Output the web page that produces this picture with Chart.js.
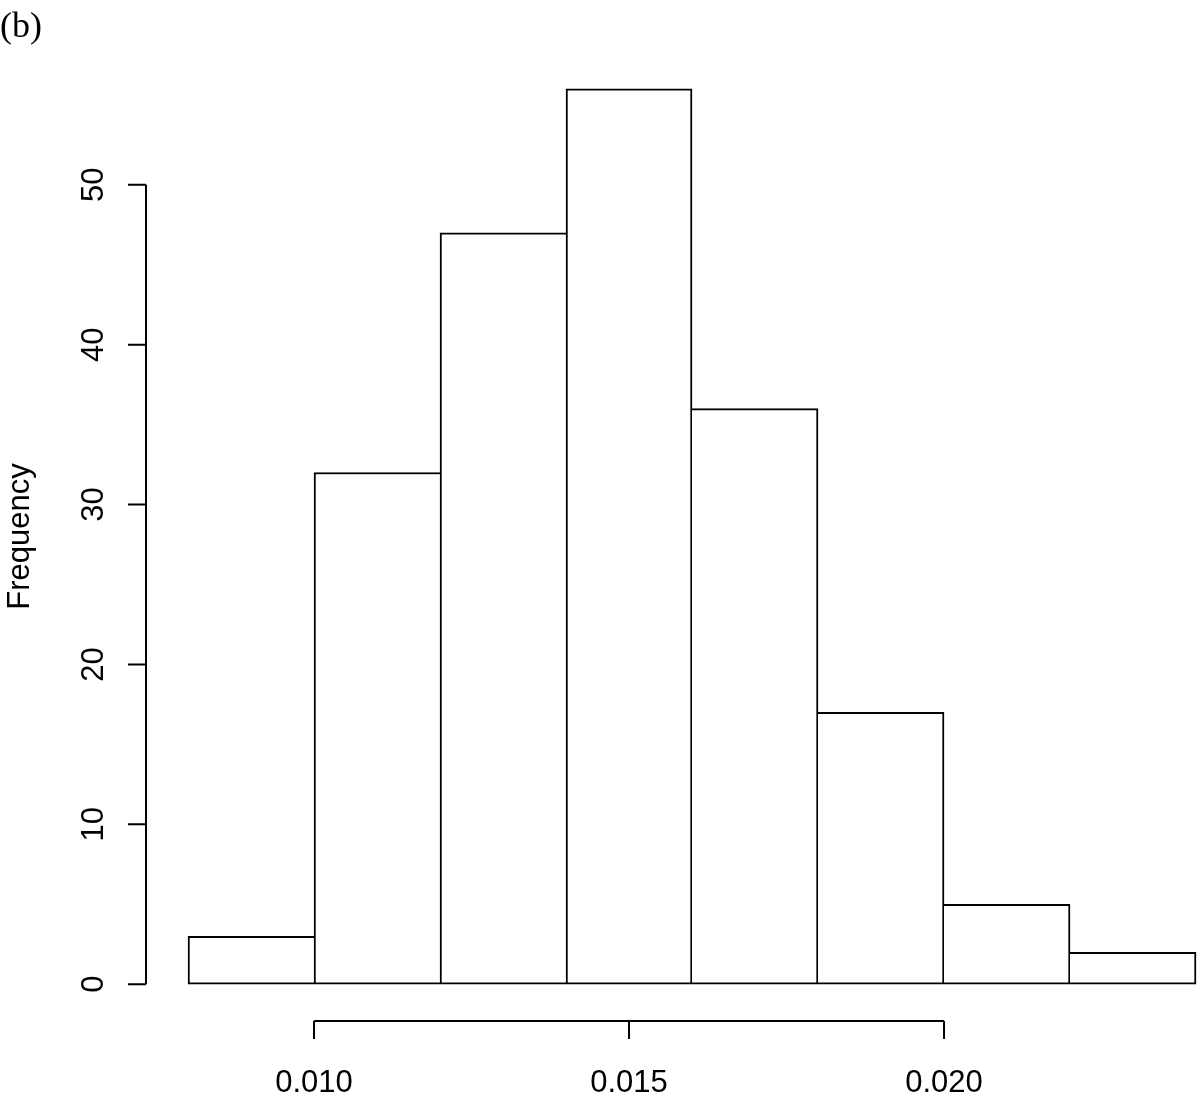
<!DOCTYPE html>
<html>
<head>
<meta charset="utf-8">
<script src="https://cdn.jsdelivr.net/npm/chart.js@4/dist/chart.umd.min.js"></script>
<style>
  html, body { margin: 0; padding: 0; background: #fff; }
  canvas { display: block; }
</style>
</head>
<body>
<canvas id="hist" width="1200" height="1098"></canvas>
<script>
// ——— DATA ———
const binEdges = [0.008, 0.010, 0.012, 0.014, 0.016, 0.018, 0.020, 0.022, 0.024];
const counts = [3, 32, 47, 56, 36, 17, 5, 2];
const xTicks = [0.010, 0.015, 0.020];
const xTickLabels = ['0.010', '0.015', '0.020'];
const yTicks = [0, 10, 20, 30, 40, 50];
const yLabel = 'Frequency';
const panelTag = '(b)';

const FONT = '31px "Liberation Sans", Arial, Helvetica, sans-serif';

// ——— R-STYLE AXES (drawn from the chart's own scales) ———
const rAxes = {
    id: 'rAxes',
    afterDraw(chart) {
        const { ctx, scales: { x, y } } = chart;
        ctx.save();
        ctx.strokeStyle = '#000';
        ctx.fillStyle = '#000';
        ctx.lineWidth = 2;
        ctx.font = FONT;

        // y axis: line from first to last tick, ticks pointing left
        const ax = x.left;
        const yTop = y.getPixelForValue(yTicks[yTicks.length - 1]);
        const yBot = y.getPixelForValue(yTicks[0]);
        ctx.beginPath();
        ctx.moveTo(ax, yTop);
        ctx.lineTo(ax, yBot);
        yTicks.forEach(v => {
            const py = y.getPixelForValue(v);
            ctx.moveTo(ax - 18, py);
            ctx.lineTo(ax, py);
        });
        ctx.stroke();
        yTicks.forEach(v => {
            const py = y.getPixelForValue(v);
            ctx.save();
            ctx.translate(ax - 43, py);
            ctx.rotate(-Math.PI / 2);
            ctx.textAlign = 'center';
            ctx.textBaseline = 'alphabetic';
            ctx.fillText(String(v), 0, 0);
            ctx.restore();
        });

        // x axis: line from first to last tick, ticks pointing down
        const ay = y.bottom + 1;
        const xL = x.getPixelForValue(xTicks[0]);
        const xR = x.getPixelForValue(xTicks[xTicks.length - 1]);
        ctx.beginPath();
        ctx.moveTo(xL, ay);
        ctx.lineTo(xR, ay);
        xTicks.forEach(v => {
            const px = x.getPixelForValue(v);
            ctx.moveTo(px, ay);
            ctx.lineTo(px, ay + 18);
        });
        ctx.stroke();
        ctx.textAlign = 'center';
        ctx.textBaseline = 'alphabetic';
        xTicks.forEach((v, i) => {
            ctx.fillText(xTickLabels[i], x.getPixelForValue(v), 1092);
        });

        // axis title
        ctx.save();
        ctx.translate(29, (y.top + y.bottom) / 2);
        ctx.rotate(-Math.PI / 2);
        ctx.textAlign = 'center';
        ctx.fillText(yLabel, 0, 0);
        ctx.restore();

        // panel tag
        ctx.font = '36px "Liberation Serif", "Times New Roman", serif';
        ctx.textAlign = 'left';
        ctx.fillText(panelTag, 0, 37);
        ctx.restore();
    }
};

// ——— HISTOGRAM ———
const bars = counts.map((c, i) => ({ x: (binEdges[i] + binEdges[i + 1]) / 2, y: c }));

// a shared edge between two bars is drawn once, by the taller one
function edgeWidths(ctx) {
    const i = ctx.dataIndex;
    const n = counts.length;
    const left = (i === 0 || counts[i] > counts[i - 1]) ? 2 : 0;
    const right = (i === n - 1 || counts[i] >= counts[i + 1]) ? 2 : 0;
    return { top: 2, bottom: 2, left, right };
}

new Chart(document.getElementById('hist'), {
    type: 'bar',
    data: {
        datasets: [{
            data: bars,
            backgroundColor: '#fff',
            borderColor: '#000',
            borderSkipped: false,
            borderWidth: edgeWidths,
            barPercentage: 1,
            categoryPercentage: 1
        }]
    },
    options: {
        responsive: false,
        devicePixelRatio: 1,
        animation: false,
        layout: { padding: { left: 146, right: 0, top: 53, bottom: 78 } },
        plugins: { legend: { display: false }, tooltip: { enabled: false } },
        scales: {
            x: { type: 'linear', display: false, offset: false, min: 0.007333, max: 0.024063 },
            y: { type: 'linear', display: false, min: -2.24, max: 58.24 }
        }
    },
    plugins: [rAxes]
});
</script>
</body>
</html>
